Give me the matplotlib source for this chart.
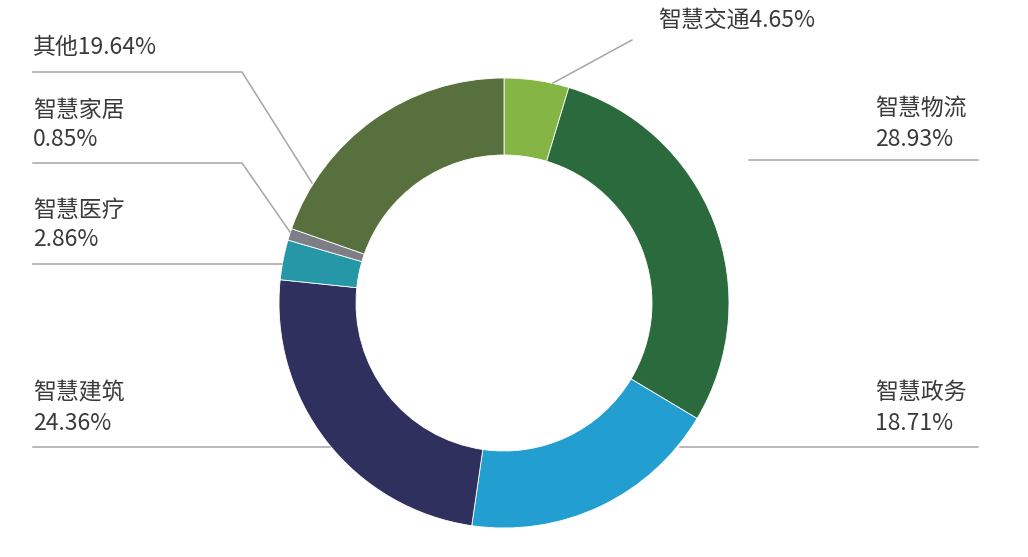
import matplotlib.pyplot as plt

plt.rcParams['font.family'] = ['Noto Sans CJK SC', 'DejaVu Sans']

# data, clockwise from 12 o'clock
labels = ['智慧交通', '智慧物流', '智慧政务', '智慧建筑', '智慧医疗', '智慧家居', '其他']
shares = [4.65, 28.93, 18.71, 24.36, 2.86, 0.85, 19.64]
colors = ['#84b545', '#2b6a3d', '#229fd0', '#30305e', '#2697a6', '#7e7f86', '#58703d']

W, H = 1028, 557
fig = plt.figure(figsize=(W / 100, H / 100), dpi=100)
ax = fig.add_axes([0, 0, 1, 1])
ax.set_xlim(0, W)
ax.set_ylim(0, H)
ax.set_aspect('equal')
ax.axis('off')


def py(y):
    # pixel row -> data y
    return H - y


cx, cy, r = 504, py(303), 225
ax.pie(shares, colors=colors, startangle=90, counterclock=False,
       center=(cx, cy), radius=r,
       wedgeprops=dict(width=77, edgecolor='white', linewidth=0.6))
ax.set_xlim(0, W)
ax.set_ylim(0, H)

line_kw = dict(color='#a6a6a6', lw=1.1)
txt_kw = dict(color='#3a3a3a', fontsize=16.5, fontweight='light', va='center', ha='left')

# leader lines (pixel coordinates)
ax.plot([553, 632], [py(83), py(40)], **line_kw)
ax.plot([749, 978], [py(160), py(160)], **line_kw)
ax.plot([680, 978], [py(447), py(447)], **line_kw)
ax.plot([33, 330], [py(447), py(447)], **line_kw)
ax.plot([33, 282], [py(264), py(264)], **line_kw)
ax.plot([33, 242, 290], [py(163), py(163), py(232)], **line_kw)
ax.plot([33, 242, 312], [py(72), py(72), py(183)], **line_kw)

# labels
ax.text(658, py(20), f'{labels[0]}{shares[0]:.2f}%', **txt_kw)
ax.text(875, py(108), labels[1], **txt_kw)
ax.text(875, py(139), f'{shares[1]:.2f}%', **txt_kw)
ax.text(875, py(392), labels[2], **txt_kw)
ax.text(875, py(423), f'{shares[2]:.2f}%', **txt_kw)
ax.text(33, py(393), labels[3], **txt_kw)
ax.text(33, py(423), f'{shares[3]:.2f}%', **txt_kw)
ax.text(33, py(210), labels[4], **txt_kw)
ax.text(33, py(240), f'{shares[4]:.2f}%', **txt_kw)
ax.text(33, py(110), labels[5], **txt_kw)
ax.text(33, py(140), f'{shares[5]:.2f}%', **txt_kw)
ax.text(33, py(48), f'{labels[6]}{shares[6]:.2f}%', **txt_kw)

fig.savefig('out.png', dpi=100, facecolor='white')
